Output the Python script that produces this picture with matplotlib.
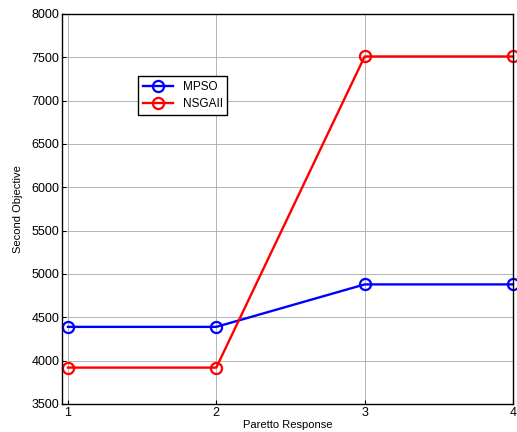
import matplotlib
matplotlib.use('Agg')
import matplotlib.pyplot as plt

plt.rcParams['font.family'] = ['Liberation Sans', 'DejaVu Sans']

# Dades llegides del grafic
responses = [1, 2, 3, 4]
mpso = [4390, 4390, 4880, 4880]
nsgaii = [3920, 3920, 7510, 7510]

fig = plt.figure(figsize=(5.17, 4.32), dpi=100)
ax = fig.add_axes([62 / 517, 28 / 432, 451 / 517, 390 / 432])

ax.plot(responses, mpso, '-o', color='blue', lw=1.7, ms=8, mfc='none', mew=1.6, label='MPSO', clip_on=False)
ax.plot(responses, nsgaii, '-o', color='red', lw=1.7, ms=8, mfc='none', mew=1.6, label='NSGAII', clip_on=False)

ax.set_xlim(0.96, 4.0)
ax.set_ylim(3500, 8000)
ax.set_xticks(responses)
ax.set_yticks(range(3500, 8001, 500))
ax.tick_params(direction='in', labelsize=9, length=3, pad=2)
for s in ax.spines.values():
    s.set_linewidth(1.0)
    s.set_color('black')

ax.grid(color='#a8a8a8', linestyle='-', linewidth=0.6)
ax.set_xlabel('Paretto Response', fontsize=8, labelpad=1)
ax.set_ylabel('Second Objective', fontsize=8, labelpad=6)

leg = ax.legend(loc='upper left', bbox_to_anchor=(0.155, 0.855), fontsize=8.5,
                fancybox=False, framealpha=1, edgecolor='black', handlelength=2.6,
                borderpad=0.4, labelspacing=0.4)
leg.get_frame().set_linewidth(1.0)

fig.savefig('out.png', dpi=100)
